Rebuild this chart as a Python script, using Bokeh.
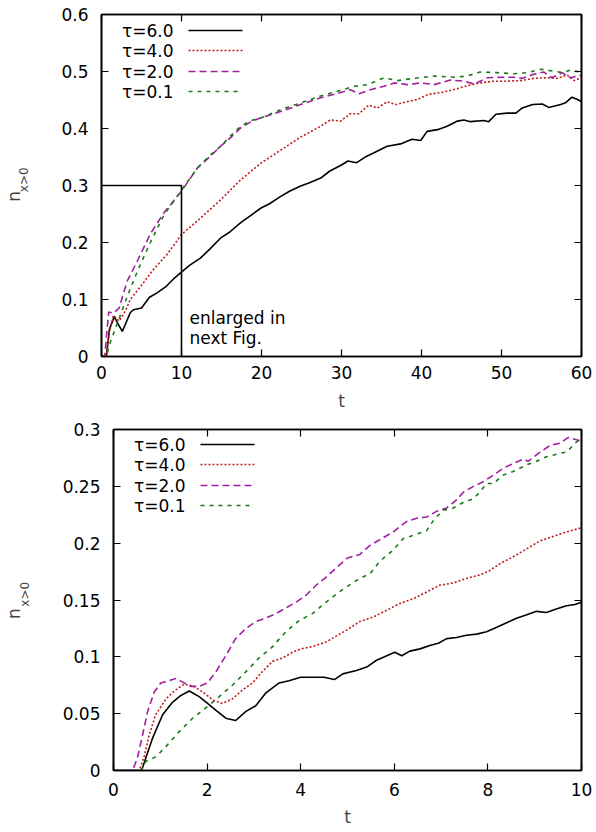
from bokeh.plotting import figure
from bokeh.models import FixedTicker, LinearAxis, Label, Range1d
from bokeh.embed import file_html
from bokeh.resources import INLINE

FONT = "DejaVu Sans"

# ---------------- data ----------------
series_names = ["τ=6.0", "τ=4.0", "τ=2.0", "τ=0.1"]

top_t_tau6 = [0, 0.6, 1.0, 1.6, 2.0, 2.6, 3.0, 3.6, 4.0, 5.0, 6.0, 7.0, 8.0, 9.0, 10.0, 11.0, 12.4, 13.5, 14.9, 16.0,
              17.4, 18.5, 20.0, 21.0, 22.4, 23.5, 24.9, 26.0, 27.4, 28.5, 30.0, 30.8, 31.9, 33.1, 34.0, 35.7, 37.4, 38.8,
              39.9, 40.7, 42.0, 43.2, 44.5, 45.3, 46.1, 47.8, 48.4, 49.3, 50.7, 51.8, 52.6, 53.9, 55.1, 55.9, 57.4, 58.0,
              58.8, 59.5, 60.0]
top_n_tau6 = [0, 0, 0.048, 0.070, 0.059, 0.044, 0.057, 0.077, 0.082, 0.085, 0.104, 0.112, 0.122, 0.136, 0.148, 0.160,
              0.173, 0.188, 0.208, 0.218, 0.235, 0.246, 0.261, 0.268, 0.281, 0.290, 0.299, 0.305, 0.313, 0.325, 0.336,
              0.343, 0.340, 0.351, 0.357, 0.369, 0.373, 0.381, 0.379, 0.395, 0.398, 0.404, 0.413, 0.415, 0.412, 0.414,
              0.412, 0.425, 0.427, 0.427, 0.436, 0.442, 0.443, 0.437, 0.442, 0.445, 0.455, 0.451, 0.447]

top_t_tau4 = [0, 0.6, 1.0, 1.5, 2.2, 3.0, 3.6, 4.9, 6.5, 8.2, 10.0, 12.4, 14.9, 17.4, 20.0, 22.4, 24.9, 27.4, 28.6, 29.9,
              31.1, 32.2, 33.4, 34.5, 35.7, 36.8, 38.2, 39.5, 40.9, 42.4, 44.0, 45.7, 47.3, 49.0, 50.7, 52.4, 54.0, 55.7,
              57.0, 58.2, 59.1, 60.0]
top_n_tau4 = [0, 0, 0.045, 0.072, 0.062, 0.080, 0.100, 0.123, 0.153, 0.179, 0.214, 0.243, 0.275, 0.310, 0.340, 0.362,
              0.385, 0.404, 0.415, 0.413, 0.426, 0.426, 0.441, 0.436, 0.447, 0.442, 0.447, 0.451, 0.460, 0.463, 0.468,
              0.475, 0.480, 0.483, 0.483, 0.484, 0.488, 0.489, 0.488, 0.494, 0.484, 0.489]

top_t_tau2 = [0, 0.4, 0.9, 1.5, 2.2, 3.2, 4.5, 6.1, 7.8, 10.0, 12.0, 13.5, 14.9, 16.2, 17.4, 18.7, 20.0, 22.4, 24.9, 27.4,
              29.9, 31.1, 32.2, 33.6, 35.3, 36.6, 38.2, 39.9, 41.6, 43.6, 45.3, 46.6, 48.2, 50.3, 51.5, 52.6, 54.0, 55.3,
              56.3, 57.6, 58.6, 60.0]
top_n_tau2 = [0, 0, 0.078, 0.076, 0.085, 0.132, 0.168, 0.215, 0.252, 0.290, 0.331, 0.350, 0.369, 0.385, 0.401, 0.412,
              0.419, 0.430, 0.442, 0.454, 0.463, 0.468, 0.461, 0.468, 0.474, 0.480, 0.477, 0.480, 0.477, 0.485, 0.483,
              0.478, 0.489, 0.490, 0.490, 0.488, 0.495, 0.499, 0.489, 0.498, 0.489, 0.494]

top_t_tau01 = [0, 0.6, 1.1, 1.9, 3.2, 4.5, 6.1, 7.8, 10.0, 12.0, 13.5, 14.9, 16.2, 17.4, 18.7, 20.0, 22.4, 24.9, 27.4,
               29.9, 31.6, 33.3, 35.3, 37.0, 39.0, 41.6, 44.0, 45.7, 47.3, 49.4, 51.5, 53.2, 54.9, 56.3, 57.7, 58.5, 60.0]
top_n_tau01 = [0, 0, 0.025, 0.055, 0.105, 0.150, 0.200, 0.248, 0.292, 0.331, 0.352, 0.369, 0.388, 0.404, 0.414, 0.419,
               0.433, 0.445, 0.457, 0.467, 0.474, 0.477, 0.489, 0.484, 0.488, 0.492, 0.490, 0.492, 0.499, 0.498, 0.496,
               0.498, 0.504, 0.501, 0.498, 0.502, 0.499]

bot_t_tau6 = [0, 0.6, 0.69, 0.83, 1.05, 1.26, 1.44, 1.62, 1.83, 2.01, 2.19, 2.4, 2.61, 2.83, 3.04, 3.25, 3.54, 3.75,
              4.0, 4.25, 4.5, 4.72, 4.9, 5.19, 5.41, 5.62, 5.84, 6.01, 6.16, 6.33, 6.55, 6.76, 6.94, 7.12, 7.33, 7.54,
              7.76, 7.97, 8.19, 8.4, 8.61, 8.83, 9.04, 9.25, 9.46, 9.68, 9.86, 10.0]
bot_n_tau6 = [0, 0, 0.011, 0.028, 0.049, 0.060, 0.066, 0.070, 0.065, 0.059, 0.053, 0.046, 0.044, 0.052, 0.057, 0.068,
              0.077, 0.079, 0.082, 0.082, 0.082, 0.080, 0.085, 0.088, 0.091, 0.097, 0.101, 0.104, 0.101, 0.105, 0.107,
              0.110, 0.112, 0.116, 0.117, 0.119, 0.120, 0.122, 0.126, 0.130, 0.134, 0.137, 0.140, 0.139, 0.142, 0.145,
              0.146, 0.148]

bot_t_tau4 = [0, 0.55, 0.66, 0.76, 0.9, 1.12, 1.33, 1.51, 1.72, 1.94, 2.12, 2.33, 2.54, 2.76, 2.97, 3.18, 3.4, 3.61,
              3.82, 4.0, 4.25, 4.54, 4.79, 5.0, 5.26, 5.55, 5.84, 6.12, 6.4, 6.69, 6.97, 7.26, 7.54, 7.83, 8.04, 8.26,
              8.54, 8.83, 9.11, 9.4, 9.68, 10.0]
bot_n_tau4 = [0, 0, 0.013, 0.031, 0.049, 0.063, 0.071, 0.076, 0.074, 0.068, 0.062, 0.059, 0.063, 0.071, 0.077, 0.087,
              0.096, 0.099, 0.104, 0.107, 0.109, 0.113, 0.119, 0.124, 0.131, 0.135, 0.141, 0.147, 0.151, 0.157, 0.163,
              0.165, 0.169, 0.172, 0.176, 0.182, 0.188, 0.195, 0.202, 0.206, 0.210, 0.2135]

bot_t_tau2 = [0, 0.41, 0.51, 0.62, 0.73, 0.87, 1.01, 1.19, 1.33, 1.47, 1.65, 1.83, 2.01, 2.19, 2.4, 2.61, 2.83, 3.04,
              3.25, 3.47, 3.68, 3.9, 4.11, 4.33, 4.54, 4.75, 5.0, 5.26, 5.48, 5.69, 5.98, 6.26, 6.48, 6.69, 6.9, 7.12,
              7.33, 7.48, 7.69, 7.9, 8.12, 8.33, 8.54, 8.76, 8.86, 9.08, 9.33, 9.54, 9.72, 9.89, 10.0]
bot_n_tau2 = [0, 0, 0.011, 0.031, 0.052, 0.069, 0.077, 0.079, 0.081, 0.078, 0.074, 0.074, 0.077, 0.087, 0.101, 0.116,
              0.125, 0.131, 0.134, 0.138, 0.143, 0.148, 0.154, 0.163, 0.170, 0.178, 0.187, 0.190, 0.198, 0.203, 0.210,
              0.219, 0.222, 0.223, 0.228, 0.231, 0.238, 0.245, 0.250, 0.254, 0.260, 0.266, 0.270, 0.274, 0.272, 0.279,
              0.286, 0.288, 0.293, 0.291, 0.290]

bot_t_tau01 = [0, 0.59, 0.69, 0.9, 1.12, 1.4, 1.69, 1.97, 2.26, 2.54, 2.83, 3.11, 3.4, 3.68, 3.97, 4.25, 4.54, 4.82,
               5.0, 5.26, 5.48, 5.69, 5.98, 6.19, 6.48, 6.69, 6.87, 7.05, 7.26, 7.48, 7.69, 7.83, 7.97, 8.12, 8.33, 8.54,
               8.83, 9.04, 9.25, 9.54, 9.7, 9.86, 10.0]
bot_n_tau01 = [0, 0, 0.008, 0.012, 0.021, 0.034, 0.046, 0.055, 0.065, 0.075, 0.087, 0.099, 0.109, 0.122, 0.132, 0.138,
               0.148, 0.157, 0.162, 0.169, 0.173, 0.184, 0.194, 0.204, 0.208, 0.211, 0.222, 0.229, 0.231, 0.236, 0.239,
               0.245, 0.2525, 0.2525, 0.260, 0.263, 0.269, 0.272, 0.276, 0.279, 0.2805, 0.288, 0.292]

top_x_ticks = [0, 10, 20, 30, 40, 50, 60]
top_x_labels = ["0", "10", "20", "30", "40", "50", "60"]
top_y_ticks = [0, 0.1, 0.2, 0.3, 0.4, 0.5, 0.6]
top_y_labels = ["0", "0.1", "0.2", "0.3", "0.4", "0.5", "0.6"]
bot_x_ticks = [0, 2, 4, 6, 8, 10]
bot_x_labels = ["0", "2", "4", "6", "8", "10"]
bot_y_ticks = [0, 0.05, 0.1, 0.15, 0.2, 0.25, 0.3]
bot_y_labels = ["0", "0.05", "0.1", "0.15", "0.2", "0.25", "0.3"]

zoom_t_max = 10
zoom_n_max = 0.3

# ---------------- styles ----------------
colors = ["#000000", "#c01a1a", "#a0209f", "#1a7a1a"]
dashes = ["solid", "2 2", "7 4", "4 5"]
widths = [1.6, 1.6, 1.6, 1.6]
NB = "\u00a0"

# legend placement, pixels from the frame's left / bottom edge
LEG_TEXT_RIGHT = 72
LEG_LINE = (87, 141)
LEG_ROWS = [326, 306, 285, 265]


def style_axis(ax, ticks, labels=None):
    ax.ticker = FixedTicker(ticks=ticks)
    ax.axis_line_width = 1.6
    ax.axis_line_color = "black"
    ax.major_tick_in = 7
    ax.major_tick_out = 0
    ax.major_tick_line_width = 1.2
    ax.major_tick_line_color = "black"
    ax.minor_tick_line_color = None
    ax.major_label_text_font = FONT
    if labels is None:
        ax.major_label_text_font_size = "0px"
        ax.major_label_text_color = None
        ax.major_label_standoff = 0
    else:
        ax.major_label_text_color = "black"
        ax.major_label_text_font_size = "17px"
        ax.major_label_overrides = {t: l for t, l in zip(ticks, labels)}


def make_panel(xr, yr, fw, fh, borders, xt, xl, yt, yl, series, x_tick_standoff, t_standoff,
               sub_text, sub_standoff, n_text, n_standoff):
    left, right, top, bottom = borders
    p = figure(frame_width=fw, frame_height=fh, x_range=Range1d(*xr), y_range=Range1d(*yr),
               output_backend="svg", toolbar_location=None,
               min_border_left=left, min_border_right=right, min_border_top=top, min_border_bottom=bottom)
    p.xgrid.visible = False
    p.ygrid.visible = False
    p.outline_line_color = "black"
    p.outline_line_width = 1.6

    xa = p.xaxis[0]
    style_axis(xa, xt, xl)
    xa.major_label_standoff = x_tick_standoff
    xa.axis_label = "t"
    xa.axis_label_text_font = FONT
    xa.axis_label_text_font_size = "17px"
    xa.axis_label_text_font_style = "normal"
    xa.axis_label_standoff = t_standoff

    ya = p.yaxis[0]
    style_axis(ya, yt, yl)
    ya.major_label_standoff = 13
    # subscript "x>0" carried by the main y axis
    ya.axis_label = sub_text
    ya.axis_label_text_font = FONT
    ya.axis_label_text_font_size = "12px"
    ya.axis_label_text_font_style = "normal"
    ya.axis_label_standoff = sub_standoff

    # outer left axis carrying the "n"
    na = LinearAxis(ticker=FixedTicker(ticks=[]), axis_line_color=None, major_tick_line_color=None,
                    minor_tick_line_color=None, major_tick_out=0, major_tick_in=0,
                    major_label_text_font_size="0px", major_label_text_color=None, major_label_standoff=0,
                    axis_label=n_text, axis_label_text_font=FONT, axis_label_text_font_size="17px",
                    axis_label_text_font_style="normal", axis_label_standoff=n_standoff)
    p.add_layout(na, "left")

    top_ax = LinearAxis()
    style_axis(top_ax, xt)
    p.add_layout(top_ax, "above")
    right_ax = LinearAxis()
    style_axis(right_ax, yt)
    p.add_layout(right_ax, "right")

    for (t, n), c, d, w in zip(series, colors, dashes, widths):
        p.line(t, n, line_color=c, line_dash=d, line_width=w)

    # legend: text on the left, line sample on the right
    sx = (xr[1] - xr[0]) / fw
    sy = (yr[1] - yr[0]) / fh
    for name, c, d, w, ry in zip(series_names, colors, dashes, widths, LEG_ROWS):
        p.add_layout(Label(x=LEG_TEXT_RIGHT, y=ry, x_units="screen", y_units="screen", text=name,
                           text_align="right", text_baseline="middle", text_font=FONT,
                           text_font_size="17px", text_color="black"))
        p.line([xr[0] + LEG_LINE[0] * sx, xr[0] + LEG_LINE[1] * sx], [yr[0] + ry * sy, yr[0] + ry * sy],
               line_color=c, line_dash=d, line_width=w)
    return p


top_series = [(top_t_tau6, top_n_tau6), (top_t_tau4, top_n_tau4), (top_t_tau2, top_n_tau2), (top_t_tau01, top_n_tau01)]
bot_series = [(bot_t_tau6, bot_n_tau6), (bot_t_tau4, bot_n_tau4), (bot_t_tau2, bot_n_tau2), (bot_t_tau01, bot_n_tau01)]

p1 = make_panel((0, 60), (0, 0.6), 480, 342, (101, 12, 14, 60), top_x_ticks, top_x_labels, top_y_ticks, top_y_labels,
                top_series, 9, 9, NB * 3 + "x>0", 27, "n" + NB * 4, -9)
p1.line([0, zoom_t_max, zoom_t_max], [zoom_n_max, zoom_n_max, 0], line_color="black", line_width=1.6)
p1.add_layout(Label(x=11, y=0.068, text="enlarged in", text_font=FONT, text_font_size="17px",
                    text_color="black", text_baseline="alphabetic"))
p1.add_layout(Label(x=11, y=0.033, text="next Fig.", text_font=FONT, text_font_size="17px",
                    text_color="black", text_baseline="alphabetic"))

p2 = make_panel((0, 10), (0, 0.3), 468, 341, (113, 12, 13, 58), bot_x_ticks, bot_x_labels, bot_y_ticks, bot_y_labels,
                bot_series, 12, 8, NB * 3 + "x>0", 28, "n" + NB * 5, -9)

open("out.html", "w").write(file_html([p1, p2], INLINE))
